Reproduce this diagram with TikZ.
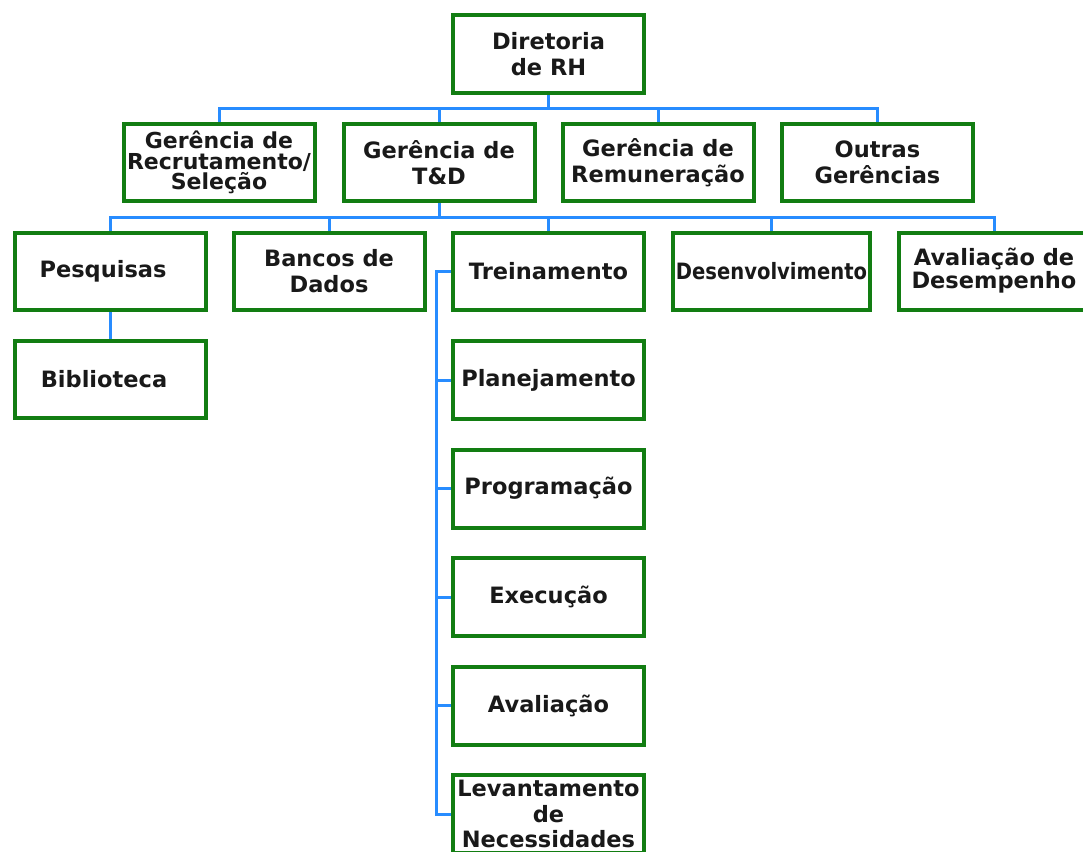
\documentclass[tikz,border=0pt]{standalone}
\usepackage{fontspec}
\usepackage{graphicx}
\setmainfont{DejaVu Sans}
\usetikzlibrary{backgrounds}
\definecolor{boxgreen}{RGB}{18,125,18}
\definecolor{linkblue}{RGB}{40,140,255}
\tikzset{
  orgbox/.style={draw=boxgreen, line width=4pt, minimum width=191pt, minimum height=77pt,
    inner sep=0pt, align=center, text=black!90, font=\bfseries\fontsize{22.5}{26}\selectfont},
  conn/.style={draw=linkblue, line width=3pt}
}
\begin{document}
\begin{tikzpicture}[x=1pt,y=-1pt]
\useasboundingbox (0,0) rectangle (1083,851);
% level 1
\node[orgbox] (dir) at (548.5,54) {Diretoria\\de RH};
% level 2
\node[orgbox, font=\bfseries\fontsize{22}{20.5}\selectfont] (rec) at (219,162.5) {Gerência de\\Recrutamento/\\Seleção};
\node[orgbox] (td) at (439,162.5) {Gerência de\\T\&D};
\node[orgbox] (rem) at (658,162.5) {Gerência de\\Remuneração};
\node[orgbox] (out) at (877.5,162.5) {Outras\\Gerências};
% level 3
\node[orgbox] (pes) at (110,271) {\hspace*{-14pt}Pesquisas};
\node[orgbox] (ban) at (329,271) {Bancos de\\Dados};
\node[orgbox] (tre) at (548.5,271) {Treinamento};
\node[orgbox, minimum width=197pt] (des) at (771.5,271) {\scalebox{0.87}[1]{Desenvolvimento}};
\node[orgbox, font=\bfseries\fontsize{22.5}{23}\selectfont] (ava) at (994,271) {Avaliação de\\Desempenho};
% sub
\node[orgbox] (bib) at (110,379) {\hspace*{-12pt}Biblioteca};
\node[orgbox, minimum height=78pt] (pla) at (548.5,380) {Planejamento};
\node[orgbox, minimum height=78pt] (pro) at (548.5,488.5) {Programação};
\node[orgbox, minimum height=78pt] (exe) at (548.5,597) {Execução};
\node[orgbox, minimum height=78pt] (av2) at (548.5,705.5) {Avaliação};
\node[orgbox, minimum height=78pt, font=\bfseries\fontsize{22.5}{25.5}\selectfont] (lev) at (548.5,814) {Levantamento\\de\\Necessidades};
% connectors
\coordinate (b1) at (548.5,108);
\coordinate (b2) at (439,217);
\coordinate (vb) at (436,0);
\begin{scope}[on background layer]
\draw[conn] (dir.south) -- (b1);
\draw[conn] (b1) -| (rec.north);
\draw[conn] (b1) -| (td.north);
\draw[conn] (b1) -| (rem.north);
\draw[conn] (b1) -| (out.north);
\draw[conn] (td.south) -- (b2);
\draw[conn] (b2) -| (pes.north);
\draw[conn] (b2) -| (ban.north);
\draw[conn] (b2) -| (tre.north);
\draw[conn] (b2) -| (des.north);
\draw[conn] (b2) -| (ava.north);
\draw[conn] (pes.south) -- (bib.north);
\draw[conn] (tre.west) -- (tre.west -| vb) |- (lev.west);
\draw[conn] (pla.west) -- (pla.west -| vb);
\draw[conn] (pro.west) -- (pro.west -| vb);
\draw[conn] (exe.west) -- (exe.west -| vb);
\draw[conn] (av2.west) -- (av2.west -| vb);
\end{scope}
\end{tikzpicture}
\end{document}
